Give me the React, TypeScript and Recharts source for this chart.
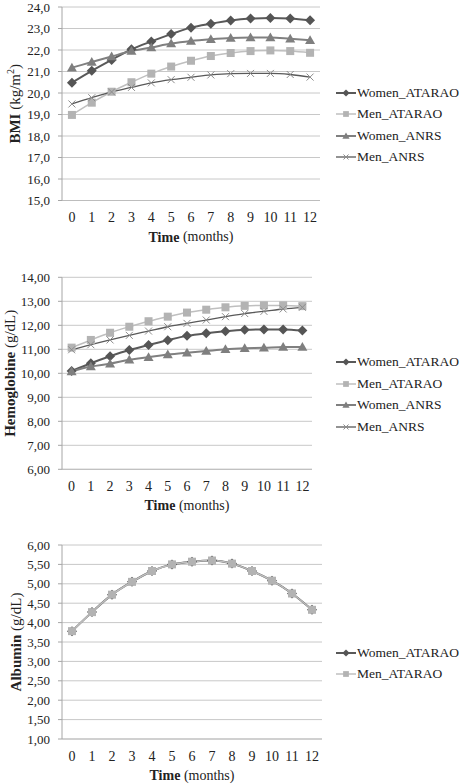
import { LineChart, Line, XAxis, YAxis, CartesianGrid, Legend } from "recharts";

const MONTHS = ["0", "1", "2", "3", "4", "5", "6", "7", "8", "9", "10", "11", "12"];

// BMI (kg/m2)
const BMI_WOMEN_ATARAO = [20.48, 21.03, 21.54, 22.03, 22.4, 22.74, 23.04, 23.22, 23.37, 23.46, 23.49, 23.47, 23.38];
const BMI_MEN_ATARAO = [18.98, 19.55, 20.06, 20.5, 20.9, 21.23, 21.5, 21.72, 21.86, 21.95, 21.98, 21.95, 21.87];
const BMI_WOMEN_ANRS = [21.18, 21.44, 21.7, 21.95, 22.12, 22.3, 22.42, 22.5, 22.56, 22.58, 22.58, 22.52, 22.45];
const BMI_MEN_ANRS = [19.49, 19.78, 20.05, 20.26, 20.47, 20.62, 20.73, 20.84, 20.9, 20.91, 20.91, 20.86, 20.74];
const BMI_TICKS = [15, 16, 17, 18, 19, 20, 21, 22, 23, 24];

// Hemoglobine (g/dL)
const HB_WOMEN_ATARAO = [10.1, 10.42, 10.71, 10.97, 11.18, 11.38, 11.56, 11.67, 11.75, 11.81, 11.83, 11.83, 11.78];
const HB_MEN_ATARAO = [11.07, 11.39, 11.69, 11.94, 12.17, 12.36, 12.53, 12.65, 12.75, 12.81, 12.83, 12.83, 12.8];
const HB_WOMEN_ANRS = [10.08, 10.28, 10.4, 10.56, 10.67, 10.78, 10.86, 10.93, 11.0, 11.04, 11.06, 11.1, 11.1];
const HB_MEN_ANRS = [10.98, 11.19, 11.39, 11.58, 11.76, 11.94, 12.08, 12.22, 12.36, 12.49, 12.58, 12.68, 12.75];
const HB_TICKS = [6, 7, 8, 9, 10, 11, 12, 13, 14];

// Albumin (g/dL) - both series sit on top of each other
const ALB_WOMEN_ATARAO = [3.78, 4.27, 4.72, 5.05, 5.33, 5.5, 5.57, 5.6, 5.52, 5.33, 5.08, 4.75, 4.33];
const ALB_MEN_ATARAO = [3.78, 4.27, 4.72, 5.05, 5.33, 5.5, 5.57, 5.6, 5.52, 5.33, 5.08, 4.75, 4.33];
const ALB_TICKS = [1, 1.5, 2, 2.5, 3, 3.5, 4, 4.5, 5, 5.5, 6];

type Shape = "diamond" | "square" | "triangle" | "cross";

const STYLES: Record<string, { line: string; mark: string; width: number; shape: Shape }> = {
  Women_ATARAO: { line: "#595959", mark: "#555555", width: 2, shape: "diamond" },
  Men_ATARAO: { line: "#bfbfbf", mark: "#b3b3b3", width: 1.5, shape: "square" },
  Women_ANRS: { line: "#808080", mark: "#7f7f7f", width: 2, shape: "triangle" },
  Men_ANRS: { line: "#595959", mark: "#8c8c8c", width: 1.3, shape: "cross" },
};

const FONT = '"Liberation Serif", "DejaVu Serif", serif';
const TEXT = "#222222";

function Marker({ shape, cx, cy, color, s }: { shape: Shape; cx: number; cy: number; color: string; s: number }) {
  if (shape === "diamond")
    return <polygon points={`${cx},${cy - s} ${cx + s},${cy} ${cx},${cy + s} ${cx - s},${cy}`} fill={color} />;
  if (shape === "square")
    return <rect x={cx - s * 0.8} y={cy - s * 0.8} width={s * 1.6} height={s * 1.6} fill={color} />;
  if (shape === "triangle")
    return <polygon points={`${cx},${cy - s} ${cx + s},${cy + s * 0.75} ${cx - s},${cy + s * 0.75}`} fill={color} />;
  const d = s * 0.7;
  return (
    <g stroke={color} strokeWidth={1}>
      <line x1={cx - d} y1={cy - d} x2={cx + d} y2={cy + d} />
      <line x1={cx - d} y1={cy + d} x2={cx + d} y2={cy - d} />
    </g>
  );
}

const dotFor = (name: string) => (p: any) => {
  const st = STYLES[name];
  if (p.cx == null || p.cy == null) return <g key={`e-${p.index}`} />;
  return (
    <g key={`${name}-${p.index}`}>
      <Marker shape={st.shape} cx={p.cx} cy={p.cy} color={st.mark} s={5} />
    </g>
  );
};

function LegendBox({ names, step }: { names: string[]; step: number }) {
  return (
    <div style={{ fontFamily: FONT }}>
      {names.map((name) => {
        const st = STYLES[name];
        return (
          <div key={name} style={{ display: "flex", alignItems: "center", height: step }}>
            <svg width={22} height={12} style={{ display: "block" }}>
              <line x1={1} y1={6} x2={21} y2={6} stroke={st.line} strokeWidth={st.width} />
              <Marker shape={st.shape} cx={11} cy={6} color={st.mark} s={3.6} />
            </svg>
            <span style={{ fontSize: 13.5, color: TEXT, whiteSpace: "nowrap", fontFamily: FONT }}>{name}</span>
          </div>
        );
      })}
    </div>
  );
}

const yTitle = (x: number, name: string, unit: string, sup?: string) => (props: any) => {
  const vb = props.viewBox ?? { y: 0, height: 0 };
  const cy = vb.y + vb.height / 2;
  return (
    <text
      x={x}
      y={cy}
      transform={`rotate(-90 ${x} ${cy})`}
      textAnchor="middle"
      dominantBaseline="central"
      fontSize={15}
      fontFamily={FONT}
      fill={TEXT}
    >
      <tspan fontWeight="bold">{name}</tspan>
      <tspan> ({unit}</tspan>
      {sup && (
        <tspan dy={-5} fontSize={10}>
          {sup}
        </tspan>
      )}
      <tspan dy={sup ? 5 : 0}>)</tspan>
    </text>
  );
};

const xTitle = (props: any) => {
  const vb = props.viewBox ?? { x: 0, y: 0, width: 0 };
  return (
    <text
      x={vb.x + vb.width / 2}
      y={vb.y + 36}
      textAnchor="middle"
      dominantBaseline="central"
      fontSize={14}
      fontFamily={FONT}
      fill={TEXT}
    >
      <tspan fontWeight="bold">Time</tspan> (months)
    </text>
  );
};

interface PanelProps {
  top: number;
  height: number;
  marginTop: number;
  marginRight: number;
  xAxisHeight: number;
  series: Record<string, number[]>;
  domain: [number, number];
  ticks: number[];
  decimals: number;
  title: (props: any) => JSX.Element;
  legendTop: number;
  legendStep: number;
}

function Panel(p: PanelProps) {
  const names = Object.keys(p.series);
  const data = MONTHS.map((m, i) => {
    const row: Record<string, string | number> = { month: m };
    names.forEach((n) => (row[n] = p.series[n][i]));
    return row;
  });
  const plotWidth = 472 - 62 - p.marginRight;
  const pad = plotWidth / MONTHS.length / 2;

  return (
    <div style={{ position: "absolute", left: 0, top: p.top }}>
      <LineChart
        width={472}
        height={p.height}
        data={data}
        margin={{ top: p.marginTop, right: p.marginRight, left: 0, bottom: 0 }}
        style={{ fontFamily: FONT }}
      >
        <CartesianGrid vertical={false} stroke="#c8c8c8" />
        <XAxis
          dataKey="month"
          height={p.xAxisHeight}
          padding={{ left: pad, right: pad }}
          tickLine={false}
          tickSize={0}
          tickMargin={12}
          axisLine={{ stroke: "#bdbdbd" }}
          tick={{ fontSize: 14, fill: TEXT, fontFamily: FONT }}
          interval={0}
          label={{ content: xTitle }}
        />
        <YAxis
          width={62}
          domain={p.domain}
          ticks={p.ticks}
          interval={0}
          tickSize={4}
          tickMargin={8}
          axisLine={{ stroke: "#a6a6a6" }}
          tickLine={{ stroke: "#a6a6a6" }}
          tick={{ fontSize: 13, fill: TEXT, fontFamily: FONT }}
          tickFormatter={(v: number) => v.toFixed(p.decimals).replace(".", ",")}
          label={{ content: p.title }}
        />
        <Legend
          layout="vertical"
          align="center"
          verticalAlign="middle"
          wrapperStyle={{ left: 335, top: p.legendTop, width: 137 }}
          content={() => <LegendBox names={names} step={p.legendStep} />}
        />
        {names.map((n) => (
          <Line
            key={n}
            type="monotone"
            dataKey={n}
            stroke={STYLES[n].line}
            strokeWidth={STYLES[n].width}
            dot={dotFor(n)}
            activeDot={false}
            isAnimationActive={false}
          />
        ))}
      </LineChart>
    </div>
  );
}

export default function App() {
  return (
    <div
      style={{
        position: "absolute",
        left: 0,
        top: 0,
        width: 472,
        height: 784,
        background: "#ffffff",
        fontFamily: FONT,
        overflow: "hidden",
      }}
    >
      <Panel
        top={0}
        height={250}
        marginTop={7}
        marginRight={152}
        xAxisHeight={49.5}
        series={{
          Women_ATARAO: BMI_WOMEN_ATARAO,
          Men_ATARAO: BMI_MEN_ATARAO,
          Women_ANRS: BMI_WOMEN_ANRS,
          Men_ANRS: BMI_MEN_ANRS,
        }}
        domain={[15, 24]}
        ticks={BMI_TICKS}
        decimals={1}
        title={yTitle(15, "BMI", "kg/m", "2")}
        legendTop={82}
        legendStep={21.5}
      />
      <Panel
        top={260}
        height={260}
        marginTop={17.3}
        marginRight={160}
        xAxisHeight={50.7}
        series={{
          Women_ATARAO: HB_WOMEN_ATARAO,
          Men_ATARAO: HB_MEN_ATARAO,
          Women_ANRS: HB_WOMEN_ANRS,
          Men_ANRS: HB_MEN_ANRS,
        }}
        domain={[6, 14]}
        ticks={HB_TICKS}
        decimals={2}
        title={yTitle(10, "Hemoglobine", "g/dL")}
        legendTop={91}
        legendStep={21.7}
      />
      <Panel
        top={525}
        height={259}
        marginTop={20}
        marginRight={150}
        xAxisHeight={45}
        series={{
          Women_ATARAO: ALB_WOMEN_ATARAO,
          Men_ATARAO: ALB_MEN_ATARAO,
        }}
        domain={[1, 6]}
        ticks={ALB_TICKS}
        decimals={2}
        title={yTitle(16, "Albumin", "g/dL")}
        legendTop={117.5}
        legendStep={21}
      />
    </div>
  );
}
